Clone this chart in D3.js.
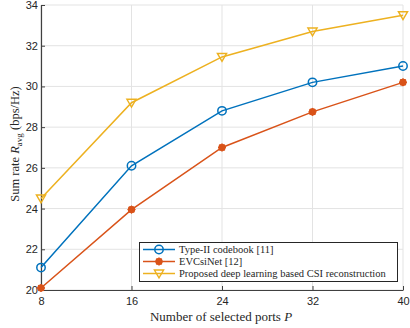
<!DOCTYPE html>
<html>
<head>
<meta charset="utf-8">
<script src="https://cdn.jsdelivr.net/npm/d3@7"></script>
<style>
body { margin: 0; background: #fff; }
svg text { fill: #262626; }
</style>
</head>
<body>
<div></div>
<script>
let ports = [8, 16, 24, 32, 40];
let typeII = [21.1, 26.1, 28.8, 30.2, 31.0];
let evcsi = [20.1, 23.95, 27.0, 28.75, 30.2];
let proposed = [24.5, 29.2, 31.45, 32.7, 33.5];
let yTicks = [20, 22, 24, 26, 28, 30, 32, 34];
let seriesNames = ["Type-II codebook [11]", "EVCsiNet [12]", "Proposed deep learning based CSI reconstruction"];
let seriesColors = ["#0072BD", "#D95319", "#EDB120"];

let svgWidth = 410, svgHeight = 328;
let svg = d3.select("body div").append("svg")
    .attr("width", svgWidth)
    .attr("height", svgHeight);

let x = d3.scaleLinear().domain([8, 40]).range([41, 403]);
let y = d3.scaleLinear().domain([20, 34]).range([290, 5]);

// grid
svg.append("g").selectAll("line").data(yTicks).enter().append("line")
    .attr("x1", 41).attr("x2", 403)
    .attr("y1", d => y(d)).attr("y2", d => y(d))
    .attr("stroke", "#e3e3e3").attr("stroke-width", 1);
svg.append("g").selectAll("line").data(ports).enter().append("line")
    .attr("y1", 5).attr("y2", 290)
    .attr("x1", d => x(d)).attr("x2", d => x(d))
    .attr("stroke", "#e3e3e3").attr("stroke-width", 1);

// axes
let xAxis = svg.append("g").attr("transform", "translate(0,290)")
    .call(d3.axisBottom(x).tickValues(ports).tickSize(-4).tickSizeOuter(0));
let yAxis = svg.append("g").attr("transform", "translate(41,0)")
    .call(d3.axisLeft(y).tickValues(yTicks).tickSize(-4).tickSizeOuter(0));
[xAxis, yAxis].forEach(a => {
    a.select(".domain").attr("stroke", "#404040").attr("stroke-width", 1.2);
    a.selectAll(".tick line").attr("stroke", "#404040");
    a.selectAll(".tick text").attr("font-family", "Liberation Sans, Arial, sans-serif")
        .attr("font-size", 11).attr("fill", "#262626");
});
xAxis.selectAll(".tick text").attr("dy", "1.1em").attr("y", 3);
yAxis.selectAll(".tick text").attr("x", -3);

// series
let allSeries = [typeII, evcsi, proposed];
let line = d3.line().x((d, i) => x(ports[i])).y(d => y(d));

function marker(g, kind, cx, cy, color) {
    if (kind == 0) {
        g.append("circle").attr("cx", cx).attr("cy", cy).attr("r", 4.2)
            .attr("fill", "none").attr("stroke", color).attr("stroke-width", 1.5);
    } else if (kind == 1) {
        g.append("circle").attr("cx", cx).attr("cy", cy).attr("r", 3.3)
            .attr("fill", color).attr("stroke", color).attr("stroke-width", 1);
        for (let k = 0; k < 4; k++) {
            let a = k * Math.PI / 4;
            g.append("line")
                .attr("x1", cx - 4 * Math.cos(a)).attr("y1", cy - 4 * Math.sin(a))
                .attr("x2", cx + 4 * Math.cos(a)).attr("y2", cy + 4 * Math.sin(a))
                .attr("stroke", color).attr("stroke-width", 1.2);
        }
    } else {
        let s = 4.6;
        g.append("path")
            .attr("d", `M${cx - s},${cy - s * 0.75}L${cx + s},${cy - s * 0.75}L${cx},${cy + s * 0.95}Z`)
            .attr("fill", "none").attr("stroke", color).attr("stroke-width", 1.4);
    }
}

allSeries.forEach((vals, si) => {
    let g = svg.append("g");
    g.append("path").datum(vals).attr("d", line)
        .attr("fill", "none").attr("stroke", seriesColors[si]).attr("stroke-width", 1.5);
    vals.forEach((v, i) => marker(g, si, x(ports[i]), y(v), seriesColors[si]));
});

// legend
let legend = svg.append("g");
legend.append("rect").attr("x", 139.5).attr("y", 242.5).attr("width", 258).attr("height", 39)
    .attr("fill", "#fff").attr("stroke", "#262626").attr("stroke-width", 1);
seriesNames.forEach((name, i) => {
    let ly = 249.5 + i * 12;
    legend.append("line").attr("x1", 143).attr("x2", 175).attr("y1", ly).attr("y2", ly)
        .attr("stroke", seriesColors[i]).attr("stroke-width", 1.5);
    marker(legend, i, 159, ly, seriesColors[i]);
    legend.append("text").attr("x", 179).attr("y", ly + 3.5)
        .attr("font-family", "Liberation Serif, Times New Roman, serif")
        .attr("font-size", 10.5).text(name);
});

// labels
svg.append("text").attr("x", 221).attr("y", 321).attr("text-anchor", "middle")
    .attr("font-family", "Liberation Serif, Times New Roman, serif").attr("font-size", 13)
    .html('Number of selected ports <tspan font-style="italic">P</tspan>');
svg.append("text").attr("transform", "translate(19,144) rotate(-90)").attr("text-anchor", "middle")
    .attr("font-family", "Liberation Serif, Times New Roman, serif").attr("font-size", 12.5)
    .html('Sum rate <tspan font-style="italic">R</tspan><tspan font-size="9" dy="3">avg</tspan><tspan dy="-3"> (bps/Hz)</tspan>');
</script>
</body>
</html>
